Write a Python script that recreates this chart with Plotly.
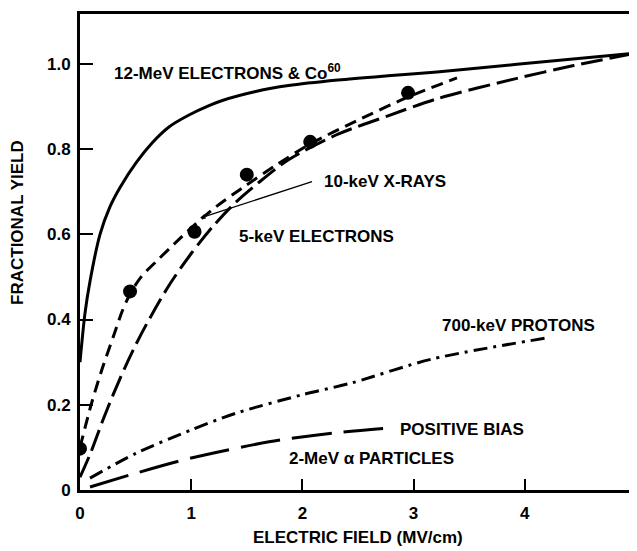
import plotly.graph_objects as go

# ---- data ----
x_12mev = [0.0, 0.045, 0.09, 0.18, 0.27, 0.36, 0.51, 0.65, 0.80, 0.98, 1.16, 1.28, 1.58, 1.875, 2.32, 2.77, 3.21, 3.93, 5.0]
y_12mev = [0.30, 0.415, 0.49, 0.60, 0.665, 0.71, 0.77, 0.815, 0.852, 0.880, 0.902, 0.914, 0.935, 0.949, 0.962, 0.972, 0.981, 0.999, 1.025]

x_xray_curve = [0.0, 0.1, 0.2, 0.3, 0.38, 0.45, 0.55, 0.70, 0.85, 1.03, 1.22, 1.46, 1.75, 2.07, 2.5, 2.95, 3.39]
y_xray_curve = [0.10, 0.20, 0.285, 0.36, 0.42, 0.46, 0.50, 0.54, 0.578, 0.622, 0.664, 0.709, 0.76, 0.812, 0.868, 0.922, 0.967]

x_xray_pts = [0.0, 0.45, 1.03, 1.50, 2.07, 2.95]
y_xray_pts = [0.097, 0.466, 0.606, 0.740, 0.817, 0.932]

x_5kev = [0.0, 0.1, 0.2, 0.3, 0.4, 0.5, 0.6, 0.8, 1.0, 1.2, 1.4, 1.6, 1.875, 2.32, 2.77, 3.21, 3.93, 4.44, 5.0]
y_5kev = [0.03, 0.09, 0.16, 0.225, 0.285, 0.34, 0.39, 0.48, 0.555, 0.62, 0.675, 0.72, 0.775, 0.835, 0.878, 0.918, 0.966, 0.996, 1.025]

x_protons = [0.09, 0.51, 1.0, 1.4, 1.99, 2.44, 3.16, 4.2]
y_protons = [0.028, 0.087, 0.141, 0.18, 0.223, 0.251, 0.307, 0.357]

x_alpha = [0.09, 0.51, 1.0, 1.70, 2.29, 2.79]
y_alpha = [0.007, 0.04, 0.075, 0.113, 0.134, 0.146]

y_tickvals = [0, 0.2, 0.4, 0.6, 0.8, 1.0]
y_ticktext = ["0", "0.2", "0.4", "0.6", "0.8", "1.0"]
x_tickvals = [0, 1, 2, 3, 4, 5]
x_ticktext = ["0", "1", "2", "3", "4", "5"]

FONT = "Liberation Sans, Arial, sans-serif"

fig = go.Figure()
fig.add_trace(go.Scatter(x=x_12mev, y=y_12mev, mode="lines",
                         line=dict(color="black", width=3, shape="spline", smoothing=0.8)))
fig.add_trace(go.Scatter(x=x_xray_curve, y=y_xray_curve, mode="lines",
                         line=dict(color="black", width=3, shape="spline", smoothing=0.8, dash="12px,7px")))
fig.add_trace(go.Scatter(x=x_xray_pts, y=y_xray_pts, mode="markers",
                         marker=dict(color="black", size=14)))
fig.add_trace(go.Scatter(x=x_5kev, y=y_5kev, mode="lines",
                         line=dict(color="black", width=3, shape="spline", smoothing=0.8, dash="22px,7px")))
fig.add_trace(go.Scatter(x=x_protons, y=y_protons, mode="lines",
                         line=dict(color="black", width=3, shape="spline", smoothing=0.8, dash="14px,6px,3px,6px")))
fig.add_trace(go.Scatter(x=x_alpha, y=y_alpha, mode="lines",
                         line=dict(color="black", width=3, shape="spline", smoothing=0.8, dash="40px,12px")))

labels = [
    (0.288, 0.981, "12-MeV ELECTRONS &amp; Co<sup>60</sup>"),
    (2.176, 0.723, "10-keV X-RAYS"),
    (1.412, 0.594, "5-keV ELECTRONS"),
    (3.237, 0.387, "700-keV PROTONS"),
    (2.86, 0.141, "POSITIVE BIAS"),
    (1.862, 0.075, "2-MeV α PARTICLES"),
]
for lx, ly, t in labels:
    fig.add_annotation(x=lx, y=ly, text=t, showarrow=False, xanchor="left", yanchor="middle",
                       font=dict(family=FONT, size=17, color="black", weight="bold"))

# pointer line from the X-ray label
fig.add_annotation(x=1.08, y=0.638, ax=2.10, ay=0.725, axref="x", ayref="y", text="",
                   showarrow=True, arrowhead=2, arrowsize=0.8, arrowwidth=1.3, arrowcolor="black")

# axis titles
fig.add_annotation(xref="paper", yref="paper", x=0, y=0.561, xshift=-62, xanchor="center", yanchor="middle",
                   text="FRACTIONAL YIELD", textangle=-90, showarrow=False,
                   font=dict(family=FONT, size=17, color="black", weight="bold"))
fig.add_annotation(xref="paper", yref="paper", x=0.5, y=0, yshift=-47, xanchor="center", yanchor="middle",
                   text="ELECTRIC FIELD (MV/cm)", showarrow=False,
                   font=dict(family=FONT, size=17, color="black", weight="bold"))

axis_common = dict(showline=True, linecolor="black", linewidth=3, mirror=True, showgrid=False,
                   zeroline=False, ticks="inside", tickcolor="black", tickwidth=2, automargin=False,
                   tickfont=dict(family=FONT, size=17, color="black", weight="bold"))
fig.update_xaxes(range=[0, 5], tickvals=x_tickvals, ticktext=x_ticktext, ticklen=11, ticklabelstandoff=6,
                 **axis_common)
fig.update_yaxes(range=[0, 1.117], tickvals=y_tickvals, ticktext=y_ticktext, ticklen=13, ticklabelstandoff=3,
                 **axis_common)

# page body has an 8px margin: size the figure so the plot area lands where the reference has it
fig.update_layout(width=629, height=543, showlegend=False,
                  paper_bgcolor="white", plot_bgcolor="white",
                  margin=dict(l=72, r=1, t=6, b=61))
fig.write_html("out.html")
